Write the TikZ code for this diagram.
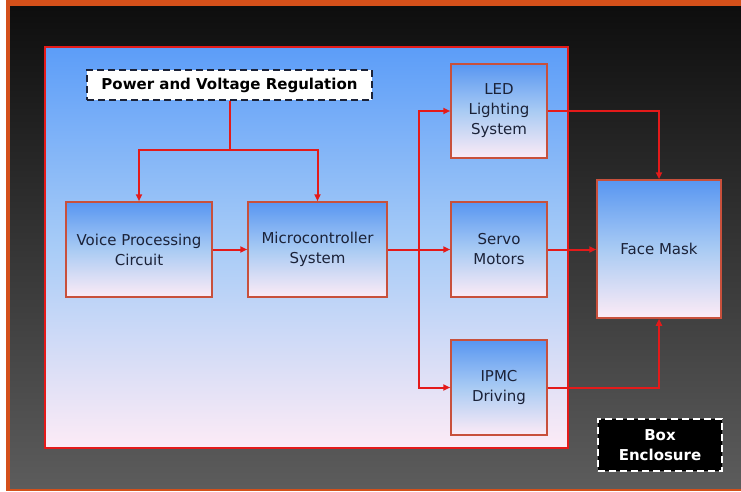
\documentclass[tikz,border=0pt]{standalone}
\usepackage{fontspec}
\setmainfont{DejaVu Sans}
\usetikzlibrary{arrows.meta,calc,positioning}
\definecolor{cerceveTuruncu}{HTML}{D4501A}
\definecolor{zeminUst}{HTML}{0E0E0E}
\definecolor{zeminAlt}{HTML}{5C5C5C}
\definecolor{panelMavi}{HTML}{5C9DF8}
\definecolor{panelOrta}{HTML}{A8CCF7}
\definecolor{panelPembe}{HTML}{FDEBF6}
\definecolor{kutuMavi}{HTML}{5896F2}
\definecolor{kutuOrta}{HTML}{A9CBF3}
\definecolor{kutuKenar}{HTML}{C8503C}
\definecolor{okKirmizi}{HTML}{E41A1A}
\definecolor{yaziLaci}{HTML}{1B2238}

\begin{document}
\begin{tikzpicture}[x=1pt,y=-1pt,
  blok/.style={draw=kutuKenar,line width=1.5pt,top color=kutuMavi,bottom color=panelPembe,middle color=kutuOrta,
    text=yaziLaci,align=center,inner sep=0pt,font=\fontsize{15}{20}\selectfont},
  kesikli/.style={line width=2pt,dash pattern=on 7pt off 4pt,inner sep=0pt,align=center,font=\bfseries\fontsize{15}{20}\selectfont},
  hat/.style={draw=okKirmizi,line width=2pt},
  ok/.style={hat,-{Triangle[length=7pt,width=6pt]}}]
\useasboundingbox (0,0) rectangle (741,492);
% zemin ve cerceve
\fill[white] (0,0) rectangle (741,492);
\fill[cerceveTuruncu] (6,0) rectangle (741,491);
\shade[top color=zeminUst,bottom color=zeminAlt] (10,7) rectangle (741,488);
% ic panel
\shade[top color=panelMavi,bottom color=panelPembe,middle color=panelOrta] (45,47) rectangle (568,448);
\draw[okKirmizi,line width=2pt] (45,47) rectangle (568,448);

\node[kesikli,draw=yaziLaci,fill=white,text=black,minimum width=285pt,minimum height=30pt] (guc) at (229.5,85) {Power and Voltage Regulation};
\node[blok,minimum width=146pt,minimum height=95pt] (ses) at (139,249.5) {Voice Processing\\Circuit};
\node[blok,minimum width=139pt,minimum height=95pt] (mcu) at (317.5,249.5) {Microcontroller\\System};
\node[blok,minimum width=96pt,minimum height=94pt] (led) at (499,111) {LED\\Lighting\\System};
\node[blok,minimum width=96pt,minimum height=95pt] (servo) at (499,249.5) {Servo\\Motors};
\node[blok,minimum width=96pt,minimum height=95pt] (ipmc) at (499,387.5) {IPMC\\Driving};
\node[blok,minimum width=124pt,minimum height=138pt] (maske) at (659,249) {Face Mask};
\node[kesikli,draw=white,fill=black,text=white,minimum width=124pt,minimum height=52pt] (kutu) at (660,445) {Box\\Enclosure};

% baglantilar
\coordinate (gucAyrim) at (guc.south |- 0,150);
\coordinate (mcuAyrim) at (419,249.5);
\draw[hat] (guc.south) -- (gucAyrim);
\draw[ok] (gucAyrim) -| (ses.north);
\draw[ok] (gucAyrim) -| (mcu.north);
\draw[ok] (ses.east) -- (mcu.west);
\draw[ok] (mcu.east) -- (servo.west);
\draw[ok] (mcuAyrim) |- (led.west);
\draw[ok] (mcuAyrim) |- (ipmc.west);
\draw[ok] (led.east) -| (maske.north);
\draw[ok] (servo.east) -- (servo.east -| maske.west);
\draw[ok] (ipmc.east) -| (maske.south);
\end{tikzpicture}
\end{document}
